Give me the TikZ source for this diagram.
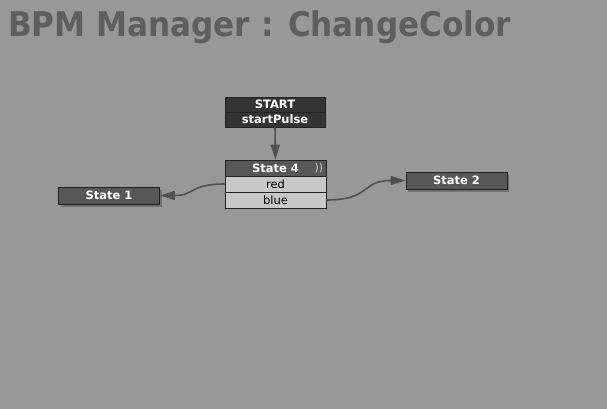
\documentclass[tikz,border=0pt]{standalone}
\usepackage{fontspec}
\setmainfont{DejaVu Sans}
\usetikzlibrary{arrows.meta,shadows,calc}
\definecolor{bg}{HTML}{989898}
\definecolor{titlec}{HTML}{5E5E5E}
\definecolor{startc}{HTML}{343434}
\definecolor{statec}{HTML}{575757}
\definecolor{rowc}{HTML}{C8C8C8}
\definecolor{edgec}{HTML}{222222}
\definecolor{arrc}{HTML}{505050}
\tikzset{
  startbox/.style={draw=edgec, fill=startc, text=white, font=\bfseries\fontsize{11.5}{12}\selectfont, minimum width=100pt, minimum height=15pt, inner sep=0pt, line width=0.8pt},
  headbox/.style={draw=edgec, fill=statec, text=white, font=\bfseries\fontsize{11.5}{12}\selectfont, minimum width=101pt, minimum height=16pt, inner sep=0pt, line width=0.8pt},
  rowbox/.style={draw=edgec, fill=rowc, text=black, font=\fontsize{11.5}{12}\selectfont, minimum width=101pt, minimum height=16pt, inner sep=0pt, line width=0.8pt},
  statebox/.style={draw=edgec, fill=statec, text=white, font=\bfseries\fontsize{11.5}{12}\selectfont, minimum width=101pt, minimum height=17pt, inner sep=0pt, line width=0.8pt, drop shadow={shadow xshift=2pt, shadow yshift=-3pt, opacity=0.25, fill=black}},
  arr/.style={draw=arrc, line width=1.6pt, -{Triangle[length=15pt,width=9pt]}},
}
\begin{document}
\begin{tikzpicture}[x=1pt,y=-1pt]
\useasboundingbox (0,0) rectangle (607,409);
\fill[bg] (0,0) rectangle (607,409);
\node[anchor=base west, inner sep=0pt, text=titlec, font=\bfseries\fontsize{34}{36}\selectfont] (title) at (8,36.5) {\scalebox{0.915}[1]{BPM Manager : ChangeColor}};
\node[startbox] (start) at (275,104.5) {START};
\node[startbox] (pulse) at (275,119.5) {startPulse};
\node[headbox] (s4) at (275.5,168) {State 4};
\node[anchor=east, inner sep=0pt, text=rowc, font=\fontsize{11}{12}\selectfont] (mark) at ($(s4.east)+(-3,0)$) {))};
\node[rowbox] (red) at (275.5,184) {red};
\node[rowbox] (blue) at (275.5,200) {blue};
\node[statebox] (s1) at (109,195.5) {State 1};
\node[statebox] (s2) at (456.5,180.5) {State 2};
\draw[arr] (pulse.south) -- (s4.north);
\draw[arr] (red.west) .. controls +(-35,0) and +(35,0) .. (s1.east);
\draw[arr] (blue.east) .. controls +(45,0) and +(-45,0) .. (s2.west);
\end{tikzpicture}
\end{document}
